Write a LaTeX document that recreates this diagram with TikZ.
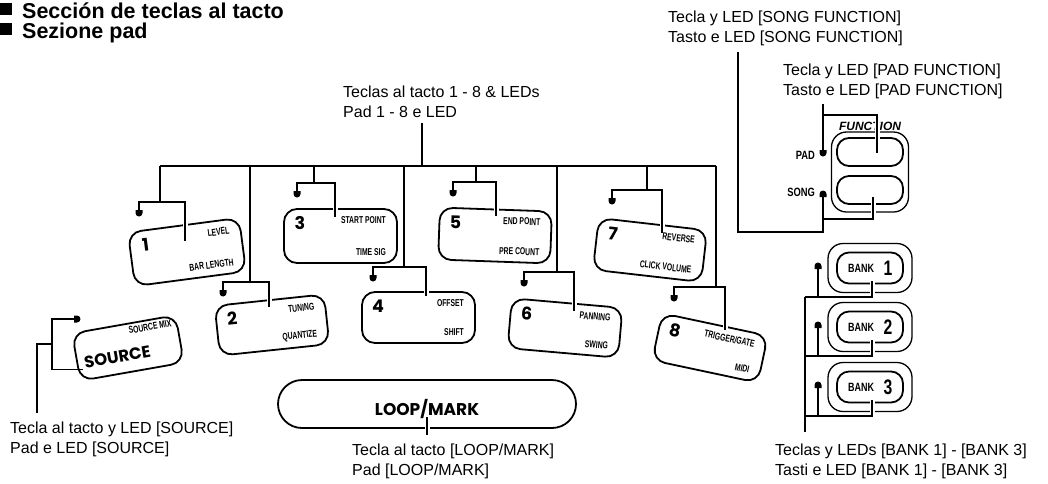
\documentclass[tikz,border=0pt]{standalone}
\usepackage{fontspec}
\setmainfont{Liberation Sans}
\newfontfamily\padfont{Poppins}
\tikzset{
  wire/.style={line width=1.2pt},
  knock/.style={draw=white,line width=5pt},
  pad/.style={draw,line width=1.8pt,rounded corners=13pt,inner sep=0pt},
  padnum/.style={font=\padfont\bfseries\fontsize{17.5}{18}\selectfont,inner sep=0pt},
  padtxt/.style={font=\bfseries\fontsize{10}{11}\selectfont,xscale=0.68,inner sep=0pt},
  bigtxt/.style={font=\padfont\bfseries\fontsize{17}{18}\selectfont,inner sep=0pt},
  tagtxt/.style={font=\bfseries\fontsize{12}{12}\selectfont,xscale=0.78,inner sep=0pt,anchor=east},
  lbl/.style={font=\fontsize{16}{20}\selectfont,align=left,inner sep=0pt,anchor=north west},
  ttl/.style={font=\bfseries\fontsize{21.5}{24}\selectfont,inner sep=0pt,anchor=base west},
  btn/.style={draw,line width=1.8pt,rounded corners=12pt,minimum width=66pt,minimum height=28pt,inner sep=0pt},
  fnbox/.style={draw,line width=1.3pt,rounded corners=15pt,inner sep=0pt},
  led/.pic={\fill (-3.5,0) -- (-3.5,3) arc[start angle=180,end angle=0,radius=3.5] -- (3.5,0) -- cycle;}
}
\begin{document}
\begin{tikzpicture}[x=1pt,y=-1pt]
\useasboundingbox (0,0) rectangle (1048,483);
\fill (0,3) rectangle (12,15);
\node[ttl] (t1) at (22,18) {Sección de teclas al tacto};
\fill (0,23) rectangle (12,35);
\node[ttl] (t2) at (22,38) {Sezione pad};

\node[lbl] (padslbl) at (343,86) {Teclas al tacto 1 - 8 \& LEDs\\Pad 1 - 8 e LED};
\node[lbl] (srclbl) at (10,422) {Tecla al tacto y LED [SOURCE]\\Pad e LED [SOURCE]};
\node[lbl] (looplbl) at (352,444) {Tecla al tacto [LOOP/MARK]\\Pad [LOOP/MARK]};
\node[lbl] (banklbl) at (775,444) {Teclas y LEDs [BANK 1] - [BANK 3]\\Tasti e LED [BANK 1] - [BANK 3]};
\node[lbl] (pflbl) at (783,64) {Tecla y LED [PAD FUNCTION]\\Tasto e LED [PAD FUNCTION]};
\node[lbl] (sflbl) at (668,11) {Tecla y LED [SONG FUNCTION]\\Tasto e LED [SONG FUNCTION]};

\foreach \n/\x/\y/\r/\w/\h/\ta/\tb in {1/187/252/7.5/112/54/LEVEL/BAR LENGTH,
    2/272/325/6/110/50/TUNING/QUANTIZE, 3/340.5/236/0/113/54/START POINT/TIME SIG,
    4/418.5/317.5/0/113/51/OFFSET/SHIFT, 5/495/235.5/-2/112/52/END POINT/PRE COUNT,
    6/565/328/-5/111/50/PANNING/SWING, 7/650/250/-6.5/109/52/REVERSE/CLICK VOLUME,
    8/710/348/-12/108/48/{TRIGGER/GATE}/MIDI} {
  \begin{scope}[shift={(\x,\y)},rotate=\r,transform shape]
    \node[pad,minimum width=\w,minimum height=\h] (p\n) at (0,0) {};
    \node[padnum] (p\n num) at (-\w/2+16,-\h/2+14) {\n};
    \node[padtxt,anchor=east] (p\n top) at (\w/2-11,-\h/2+11) {\ta};
    \node[padtxt,anchor=east] (p\n bot) at (\w/2-11,\h/2-11) {\tb};
  \end{scope}
}

\coordinate (top) at (422,166);
\foreach \n/\dx/\jy/\lx/\cx/\ey/\by in {1/160/202/139/185/241/225, 2/250/282/223/269/307/300,
    3/314/183/297/335/217/209, 4/404/267/373/426/296/292, 5/476/182/453/496/216/209.5,
    6/557/272/524/574/311/303.5, 7/647/190/612/662/233/225, 8/716/287/674/725/330/326.5} {
  \coordinate (b\n) at (\dx,166);
  \coordinate (k\n) at (\cx,\jy);
  \coordinate (l\n) at (\lx,\jy+8);
  \coordinate (in\n) at (\cx,\ey);
  \draw[knock] (\cx,\by-4) -- (\cx,\by+4);
  \draw[wire] (b\n) -- (b\n |- k\n);
  \draw[wire] (l\n) |- (k\n) -- (in\n);
  \pic at (l\n) {led};
}
\draw[wire] (b1) -- (b8);
\draw[wire,shorten >=5pt] (top) -- (top |- padslbl.south);

\begin{scope}[shift={(128,348)},rotate=10,transform shape]
  \node[pad,minimum width=105,minimum height=48] (src) at (0,0) {};
  \node[bigtxt,font=\padfont\bfseries\fontsize{16.5}{18}\selectfont] (srcname) at (-12,7) {SOURCE};
  \node[padtxt,anchor=east] (srcmix) at (47,-17) {SOURCE MIX};
  \coordinate (srcin) at (-48,13);
\end{scope}
\coordinate (ls) at (74,319);
\coordinate (srcj) at (52,344);
\coordinate (srcx) at (37,344);
\draw[wire] (ls) -| (srcj) |- (srcin);
\draw[wire,shorten >=9pt] (srcj) -- (srcx) -- (srcx |- srclbl.north);
\pic[rotate=90] at (ls) {led};

\node[pad,rounded corners=24pt,minimum width=298,minimum height=48] (loop) at (427,404) {};
\node[bigtxt] (loopname) at (427,409) {LOOP/MARK};
\coordinate (loopin) at (427,417);
\draw[knock] (427,423) -- (427,433);
\draw[wire,shorten >=9pt] (loopin) -- (loopin |- looplbl.north);

\node[fnbox,minimum width=77,minimum height=80] (fbox) at (870,172) {};
\node[btn] (padbtn) at (870,152) {};
\node[btn] (songbtn) at (870,190) {};
\node[font=\bfseries\itshape\fontsize{12}{14}\selectfont,inner sep=0pt] (fname) at (870,126) {FUNCTION};
\node[tagtxt] (padtag) at (815,155) {PAD};
\node[tagtxt] (songtag) at (815,192) {SONG};
\coordinate (lpad) at (823,150);
\coordinate (pj) at (823,115);
\coordinate (padin) at (877,153);
\draw[knock] (877,121) -- (877,146);
\draw[wire,shorten <=4.5pt] (lpad |- pflbl.south) -- (lpad);
\draw[wire] (pj) -| (padin);
\pic at (lpad) {led};
\coordinate (lsong) at (823,197);
\coordinate (sj) at (823,219);
\coordinate (songin) at (873,197);
\coordinate (sk) at (823,232);
\coordinate (sx) at (738,232);
\draw[knock] (873,200) -- (873,216);
\draw[wire,shorten >=6pt] (lsong) -- (sk) -- (sx) -- (sx |- sflbl.south);
\draw[wire] (sj) -| (songin);
\pic[rotate=180] at (lsong) {led};

\foreach \n/\y in {1/268,2/327,3/387} {
  \node[fnbox,minimum width=84,minimum height=49] (bo\n) at (870,\y) {};
  \node[btn,minimum height=31] (bi\n) at (870,\y) {};
  \node[font=\bfseries\fontsize{12}{12}\selectfont,xscale=0.75,inner sep=0pt] (bt\n) at (861,\y) {BANK};
  \node[font=\bfseries\fontsize{21}{21}\selectfont,xscale=0.75,inner sep=0pt] (bn\n) at (888,\y) {\n};
  \coordinate (bl\n) at (818,\y+1);
  \coordinate (bj\n) at (805,\y+29);
  \coordinate (bk\n) at (872,\y+29);
  \coordinate (bin\n) at (872,\y+12.5);
  \draw[knock] (872,\y+13) -- (872,\y+28);
  \draw[wire] (bj\n) -- (bk\n) -- (bin\n);
  \draw[wire] (bl\n) -- (bl\n |- bj\n);
  \pic[rotate=180] at (bl\n) {led};
}
\draw[wire,shorten >=12pt] (bj1) -- (bj1 |- banklbl.north);
\end{tikzpicture}
\end{document}
